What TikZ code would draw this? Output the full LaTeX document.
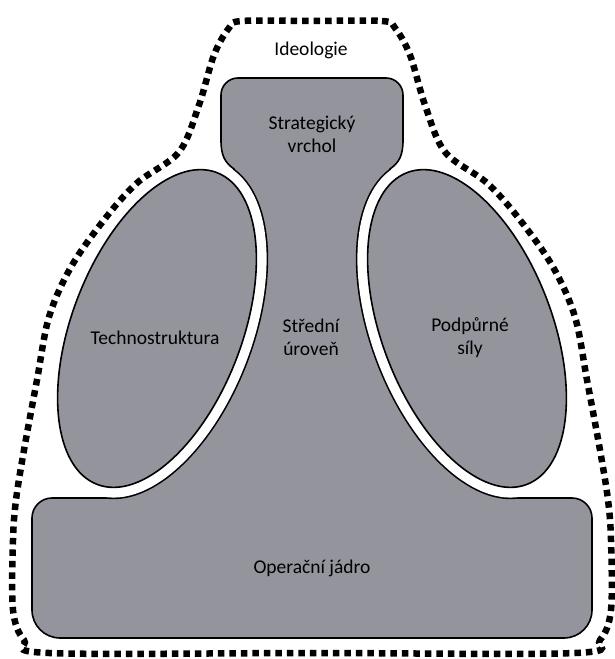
\documentclass[tikz,border=0pt]{standalone}
\usepackage{fontspec}
\setmainfont{Carlito}
\definecolor{blobgray}{RGB}{148,149,156}
% outline of the strategic apex, middle line and operating core as one body
\newcommand\orgbodypath{%
  (32,49) -- (32,141) arc[start angle=180,end angle=90,radius=20]
  -- (114,161) -- (150,329) -- (200,399) -- (234,490)
  .. controls (225,496.5) and (221,503) .. (221,519)
  -- (221,564) arc[start angle=180,end angle=90,radius=17]
  -- (386,581) arc[start angle=90,end angle=0,radius=17]
  -- (403,519) .. controls (403,503) and (399,496.5) .. (390,490)
  -- (424,399) -- (474,329) -- (510,161)
  -- (572,161) arc[start angle=90,end angle=0,radius=20]
  -- (592,49) arc[start angle=0,end angle=-90,radius=28]
  -- (60,21) arc[start angle=270,end angle=180,radius=28] -- cycle}
\newcommand\leftlobe{(157,330.5) ellipse [x radius=85, y radius=167]}
\newcommand\rightlobe{(467,330.5) ellipse [x radius=85, y radius=167]}
\begin{document}
\begin{tikzpicture}[x=1pt,y=1pt,
  body/.style={fill=blobgray, draw=black, line width=1.6pt},
  lrot/.style={rotate around={-21:(157,330.5)}},
  rrot/.style={rotate around={21:(467,330.5)}},
  ring/.style={draw=black, line width=23.6pt},
  gap/.style={draw=white, line width=20.4pt},
  lbl/.style={font=\fontsize{19.5}{23}\selectfont, align=center, inner sep=0pt},
  ideoline/.style={draw=black, line width=6.5pt, dash pattern=on 6.5pt off 5pt}]
\useasboundingbox (0,0) rectangle (614,659);

% ideology boundary
\draw[ideoline] plot[smooth cycle, tension=0.55] coordinates {
  (311,638) (382,638) (395,631) (410,604) (425,554) (445,507)
  (487,476) (520,439) (553,392) (575,342) (587,279) (600,209)
  (608,159) (611,119) (611,49) (600,19) (575,6) (312,6)
  (49,6) (24,19) (13,49) (13,119) (16,159) (24,209)
  (37,279) (49,342) (71,392) (104,439) (137,476) (179,507)
  (199,554) (214,604) (229,631) (242,638)};

% main body
\path[body] \orgbodypath;

% outer rim of the white gap around each lobe, kept inside the body
\begin{scope}
  \clip \orgbodypath;
  \path[ring, lrot] \leftlobe;
  \path[ring, rrot] \rightlobe;
\end{scope}
\path[gap, lrot] \leftlobe;
\path[gap, rrot] \rightlobe;

% technostructure and support staff
\path[body, lrot] \leftlobe;
\path[body, rrot] \rightlobe;

\node[lbl] (ideo) at (311,609) {Ideologie};
\node[lbl] (apex) at (312,524.5) {Strategický\\vrchol};
\node[lbl] (tech) at (155,321) {Technostruktura};
\node[lbl] (mid) at (311,321.5) {Střední\\úroveň};
\node[lbl] (supp) at (470,321.5) {Podpůrné\\síly};
\node[lbl] (core) at (312,91) {Operační jádro};
\end{tikzpicture}
\end{document}
